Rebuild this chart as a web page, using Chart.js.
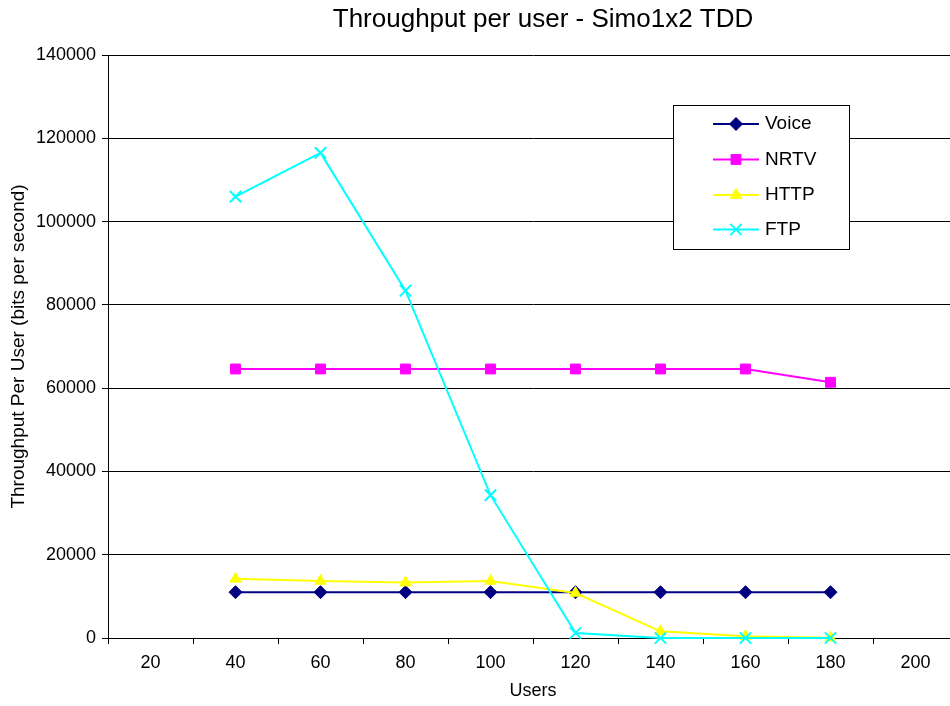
<!DOCTYPE html>
<html>
<head>
<meta charset="utf-8">
<script src="https://cdn.jsdelivr.net/npm/chart.js@4.4.1/dist/chart.umd.min.js"></script>
<style>
  html, body { margin: 0; padding: 0; background: #fff; overflow: hidden; width: 950px; height: 706px; }
  #wrap { position: absolute; left: 0; top: 0; width: 1086px; height: 706px; }
</style>
</head>
<body>
<div id="wrap"><canvas id="c" width="1086" height="706"></canvas></div>
<script>
const chartTitle = 'Throughput per user - Simo1x2 TDD';
const xTitle = 'Users';
const yTitle = 'Throughput Per User (bits per second)';
const users = ['20', '40', '60', '80', '100', '120', '140', '160', '180', '200'];
const voice = [null, 11000, 11000, 11000, 11000, 11000, 11000, 11000, 11000, null];
const nrtv  = [null, 64600, 64600, 64600, 64600, 64600, 64600, 64600, 61400, null];
const http  = [null, 14200, 13700, 13300, 13700, 10800, 1600, 400, 50, null];
const ftp   = [null, 106000, 116500, 83400, 34300, 1200, 0, 0, 0, null];
const yTicks = [0, 20000, 40000, 60000, 80000, 100000, 120000, 140000];

const FONT = 'Liberation Sans, Arial, sans-serif';

const titlePlugin = {
  id: 'xlTitle',
  afterDraw(chart) {
    const ctx = chart.ctx;
    ctx.save();
    ctx.fillStyle = '#000';
    ctx.font = '26px ' + FONT;
    ctx.textAlign = 'center';
    ctx.textBaseline = 'middle';
    ctx.fillText(chartTitle, 543, 20);
    ctx.restore();
  }
};

const legendPlugin = {
  id: 'xlLegend',
  afterDraw(chart) {
    const ctx = chart.ctx;
    const bx = 673.5, by = 105.5, bw = 176, bh = 144;
    ctx.save();
    ctx.fillStyle = '#fff';
    ctx.fillRect(bx, by, bw, bh);
    ctx.strokeStyle = '#000';
    ctx.lineWidth = 1;
    ctx.strokeRect(bx, by, bw, bh);
    const rows = [124, 159.5, 195, 229.5];
    chart.data.datasets.forEach((ds, i) => {
      const y = rows[i];
      ctx.strokeStyle = ds.borderColor;
      ctx.lineWidth = 2;
      ctx.beginPath();
      ctx.moveTo(713, y);
      ctx.lineTo(759, y);
      ctx.stroke();
      ctx.fillStyle = ds.pointBackgroundColor;
      ctx.strokeStyle = ds.pointBorderColor;
      ctx.lineWidth = ds.pointBorderWidth || 1;
      Chart.helpers.drawPoint(ctx, {
        pointStyle: ds.pointStyle,
        radius: ds.pointRadius,
        rotation: 0,
        borderWidth: ds.pointBorderWidth || 1
      }, 736, y);
      ctx.fillStyle = '#000';
      ctx.font = '19px ' + FONT;
      ctx.textAlign = 'left';
      ctx.textBaseline = 'middle';
      ctx.fillText(ds.label, 765, y);
    });
    ctx.restore();
  }
};

function mk(label, data, color, style, radius, order) {
  return {
    label, data,
    borderColor: color,
    backgroundColor: color,
    pointBackgroundColor: color,
    pointBorderColor: color,
    pointBorderWidth: style === 'crossRot' ? 2 : 1,
    pointStyle: style,
    pointRadius: radius,
    pointHoverRadius: radius,
    borderWidth: 2,
    tension: 0,
    spanGaps: false,
    clip: false,
    order
  };
}

new Chart(document.getElementById('c'), {
  type: 'line',
  data: {
    labels: users,
    datasets: [
      mk('Voice', voice, '#000080', 'rectRot', 6.5, 4),
      mk('NRTV', nrtv, '#FF00FF', 'rect', 7, 3),
      mk('HTTP', http, '#FFFF00', 'triangle', 6.5, 2),
      mk('FTP', ftp, '#00FFFF', 'crossRot', 8, 1)
    ]
  },
  options: {
    responsive: false,
    animation: false,
    events: [],
    layout: { padding: { top: 55, right: 128, left: 0, bottom: 0 } },
    plugins: {
      legend: { display: false },
      title: { display: false },
      tooltip: { enabled: false }
    },
    scales: {
      x: {
        type: 'category',
        offset: true,
        grid: { offset: true, drawOnChartArea: false, tickLength: 6, color: '#000', lineWidth: 1 },
        border: { color: '#000', width: 1 },
        ticks: { color: '#000', font: { family: FONT, size: 18 }, padding: 8, maxRotation: 0, autoSkip: false },
        title: { display: true, text: xTitle, color: '#000', font: { family: FONT, size: 18 }, padding: { top: 0, bottom: 4 } },
        afterFit(s) { s.height = 68; }
      },
      y: {
        min: 0, max: 140000,
        afterBuildTicks(s) { s.ticks = yTicks.map(v => ({ value: v })); },
        grid: { color: '#000', lineWidth: 1, tickLength: 6 },
        border: { color: '#000', width: 1 },
        ticks: { color: '#000', font: { family: FONT, size: 18 }, padding: 6, callback: v => String(v) },
        title: { display: true, text: yTitle, color: '#000', font: { family: FONT, size: 19 }, padding: { top: 7, bottom: 0 } },
        afterFit(s) { s.width = 108; }
      }
    }
  },
  plugins: [titlePlugin, legendPlugin]
});
</script>
</body>
</html>
